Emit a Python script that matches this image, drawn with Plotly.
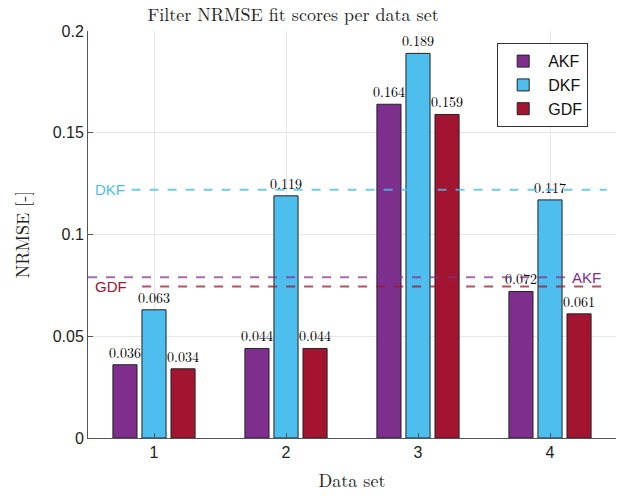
import plotly.graph_objects as go

datasets = [1, 2, 3, 4]
akf = [0.036, 0.044, 0.164, 0.072]
dkf = [0.063, 0.119, 0.189, 0.117]
gdf = [0.034, 0.044, 0.159, 0.061]
means = {"AKF": 0.079, "DKF": 0.122, "GDF": 0.0745}
yticks = [0, 0.05, 0.1, 0.15, 0.2]
ytick_labels = ["0", "0.05", "0.1", "0.15", "0.2"]

colors = {"AKF": "#7E2F8E", "DKF": "#4DBEEE", "GDF": "#A2142F"}
line_colors = {"AKF": "rgba(126,47,142,0.7)", "DKF": "rgba(77,190,238,0.8)", "GDF": "rgba(162,20,47,0.75)"}

serif = "Latin Modern Roman, CMU Serif, DejaVu Serif, serif"
sans = "Liberation Sans, Arial, sans-serif"

fig = go.Figure()
for name, vals in [("AKF", akf), ("DKF", dkf), ("GDF", gdf)]:
    fig.add_trace(go.Bar(
        x=datasets, y=vals, name=name,
        marker=dict(color=colors[name], line=dict(color="#222222", width=1)),
        text=[f"{v:.3f}" for v in vals], textposition="outside", constraintext="none",
        textfont=dict(family=serif, size=14, color="black"),
        cliponaxis=False,
    ))

# mean lines
fig.add_shape(type="line", xref="x", yref="y", x0=0.83, x1=4.43, y0=means["DKF"], y1=means["DKF"],
              line=dict(color=line_colors["DKF"], width=2, dash="dash"), layer="above")
fig.add_shape(type="line", xref="x", yref="y", x0=0.5, x1=4.14, y0=means["AKF"], y1=means["AKF"],
              line=dict(color=line_colors["AKF"], width=2, dash="dash"), layer="above")
fig.add_shape(type="line", xref="x", yref="y", x0=0.91, x1=4.43, y0=means["GDF"], y1=means["GDF"],
              line=dict(color=line_colors["GDF"], width=2, dash="dash"), layer="above")
fig.add_annotation(x=0.54, y=means["DKF"], xref="x", yref="y", text="DKF", showarrow=False,
                   xanchor="left", yanchor="middle", font=dict(family=sans, size=15, color=colors["DKF"]))
fig.add_annotation(x=0.54, y=means["GDF"], xref="x", yref="y", text="GDF", showarrow=False,
                   xanchor="left", yanchor="middle", font=dict(family=sans, size=15, color=colors["GDF"]))
fig.add_annotation(x=4.15, y=means["AKF"], xref="x", yref="y", text="AKF", showarrow=False,
                   xanchor="left", yanchor="middle", font=dict(family=sans, size=15, color=colors["AKF"]))

fig.update_layout(
    width=617, height=496,
    margin=dict(l=88, r=1, t=31, b=58),
    paper_bgcolor="white", plot_bgcolor="white",
    barmode="group", bargap=0.34, bargroupgap=0.17,
    uniformtext=dict(mode=False),
    title=dict(text="Filter NRMSE fit scores per data set", xref="container", x=0.475, xanchor="center",
               y=0.97, yanchor="middle",
               font=dict(family=serif, size=18, color="#222222")),
    legend=dict(x=0.775, y=0.97, xanchor="left", yanchor="top", bordercolor="#333333", borderwidth=1,
                bgcolor="white", font=dict(family=sans, size=16, color="#111111"),
                tracegroupgap=0, itemwidth=40),
    xaxis=dict(range=[0.5, 4.5], tickvals=datasets, ticktext=[str(d) for d in datasets],
               showgrid=True, gridcolor="#e6e6e6", showline=True, linecolor="#555555",
               ticks="inside", ticklen=5, tickcolor="#555555",
               tickfont=dict(family=sans, size=16, color="#222222"),
               title=dict(text="Data set", font=dict(family=serif, size=18, color="#222222"), standoff=14),
               zeroline=False),
    yaxis=dict(range=[0, 0.2], tickvals=yticks, ticktext=ytick_labels,
               showgrid=True, gridcolor="#e6e6e6", showline=True, linecolor="#555555",
               ticks="inside", ticklen=5, tickcolor="#555555",
               tickfont=dict(family=sans, size=16, color="#222222"),
               title=dict(text="NRMSE [-]", font=dict(family=serif, size=18, color="#222222"), standoff=18),
               zeroline=False),
)
fig.write_html("out.html")
